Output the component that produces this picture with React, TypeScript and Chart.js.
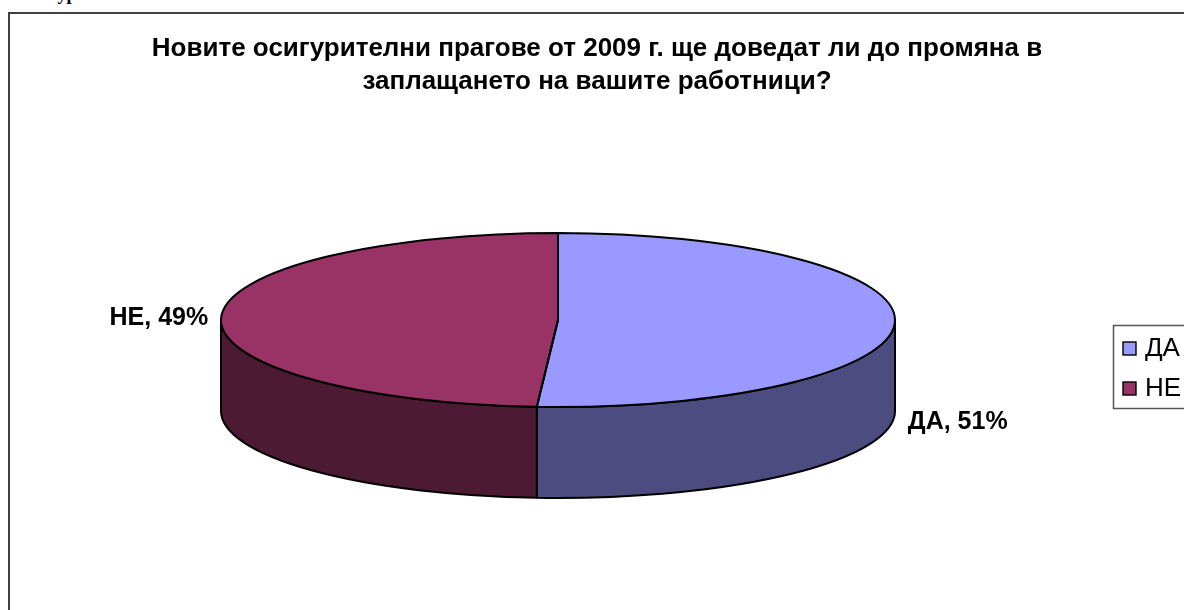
import React, { useEffect, useRef } from "react";
import { Chart, registerables } from "chart.js";

Chart.register(...registerables);

// ---- data ----
const categories = ["ДА", "НЕ"];
const shares = [51, 49];
const topColors = ["#9999FF", "#993366"];
const sideColors = ["#4C4C80", "#4C1A33"];
const titleLines = [
  "Новите осигурителни прагове от 2009 г. ще доведат ли до промяна в",
  "заплащането на вашите работници?",
];
const headingText = "Осигуровки";

// ---- layout ----
const W = 1174;
const H = 596;
const CX = 548;
const CY = 306;
const RX = 337;
const K = 87 / 337;
const DEPTH = 91;
const FONT = "'Liberation Sans', Arial, sans-serif";
const LINE_W = 2;

const pie3d = {
  id: "pie3d",
  beforeDatasetsDraw(chart: any) {
    const ctx = chart.ctx as CanvasRenderingContext2D;
    const arcs = chart.getDatasetMeta(0).data as any[];
    if (!arcs.length) return;
    const cx = arcs[0].x;
    const cy = arcs[0].y;
    const rx = arcs[0].outerRadius;
    const ry = rx * K;
    ctx.save();
    ctx.lineWidth = LINE_W;
    ctx.strokeStyle = "#000";
    ctx.lineJoin = "round";
    arcs.forEach((arc, i) => {
      const a0 = Math.max(arc.startAngle, 0);
      const a1 = Math.min(arc.endAngle, Math.PI);
      if (a1 <= a0) return;
      ctx.beginPath();
      ctx.ellipse(cx, cy, rx, ry, 0, a0, a1, false);
      ctx.lineTo(cx + rx * Math.cos(a1), cy + ry * Math.sin(a1) + DEPTH);
      ctx.ellipse(cx, cy + DEPTH, rx, ry, 0, a1, a0, true);
      ctx.closePath();
      ctx.fillStyle = sideColors[i];
      ctx.fill();
      ctx.stroke();
    });
    ctx.restore();
    ctx.save();
    ctx.translate(0, cy * (1 - K));
    ctx.scale(1, K);
  },
  afterDatasetsDraw(chart: any) {
    const ctx = chart.ctx as CanvasRenderingContext2D;
    ctx.restore();
    const arcs = chart.getDatasetMeta(0).data as any[];
    if (!arcs.length) return;
    const cx = arcs[0].x;
    const cy = arcs[0].y;
    const rx = arcs[0].outerRadius;
    const ry = rx * K;
    ctx.save();
    ctx.lineWidth = LINE_W;
    ctx.strokeStyle = "#000";
    ctx.lineJoin = "round";
    arcs.forEach((arc) => {
      ctx.beginPath();
      ctx.moveTo(cx, cy);
      ctx.ellipse(cx, cy, rx, ry, 0, arc.startAngle, arc.endAngle, false);
      ctx.closePath();
      ctx.stroke();
    });
    // data labels
    ctx.fillStyle = "#000";
    ctx.font = `bold 25px ${FONT}`;
    ctx.textBaseline = "middle";
    const values = chart.data.datasets[0].data as number[];
    arcs.forEach((arc, i) => {
      const mid = (arc.startAngle + arc.endAngle) / 2;
      const x = cx + rx * Math.cos(mid);
      const y = cy + ry * Math.sin(mid);
      const text = `${chart.data.labels[i]}, ${values[i]}%`;
      if (Math.cos(mid) >= 0) {
        ctx.textAlign = "left";
        ctx.fillText(text, x + 13, y + DEPTH + 8);
      } else {
        ctx.textAlign = "right";
        ctx.fillText(text, x - 13, y + 1);
      }
    });
    ctx.restore();
  },
  afterDraw(chart: any) {
    const ctx = chart.ctx as CanvasRenderingContext2D;
    ctx.save();
    // title
    ctx.fillStyle = "#000";
    ctx.font = `bold 26px ${FONT}`;
    ctx.textAlign = "center";
    ctx.textBaseline = "alphabetic";
    titleLines.forEach((line, i) => {
      ctx.fillText(line, chart.width / 2, 42 + i * 33);
    });
    // legend
    const lx = 1103;
    const ly = 311;
    ctx.lineWidth = 1.5;
    ctx.strokeStyle = "#555";
    ctx.strokeRect(lx + 0.5, ly + 0.5, 120, 83);
    ctx.font = `26px ${FONT}`;
    ctx.textAlign = "left";
    ctx.textBaseline = "middle";
    (chart.data.labels as string[]).forEach((lab, i) => {
      const y = ly + 23 + i * 40;
      ctx.fillStyle = topColors[i];
      ctx.fillRect(lx + 10, y - 6, 13, 13);
      ctx.lineWidth = 1.4;
      ctx.strokeStyle = "#000";
      ctx.strokeRect(lx + 10, y - 6, 13, 13);
      ctx.fillStyle = "#000";
      ctx.fillText(lab, lx + 32, y + 1);
    });
    ctx.restore();
  },
};

export default function App() {
  const ref = useRef<HTMLCanvasElement | null>(null);
  useEffect(() => {
    if (!ref.current) return;
    const padTop = 100;
    const chart = new Chart(ref.current, {
      type: "pie",
      data: {
        labels: categories,
        datasets: [
          {
            data: shares,
            backgroundColor: topColors,
            borderWidth: 0,
            radius: RX,
            clip: false,
          } as any,
        ],
      },
      options: {
        animation: false,
        responsive: false,
        events: [],
        layout: {
          padding: {
            left: 0,
            right: W - 2 * CX,
            top: padTop,
            bottom: H - (2 * CY - padTop),
          },
        },
        plugins: {
          legend: { display: false },
          title: { display: false },
          tooltip: { enabled: false },
        },
      },
      plugins: [pie3d],
    });
    return () => chart.destroy();
  }, []);

  return (
    <div
      style={{
        position: "fixed",
        left: 0,
        top: 0,
        width: 1184,
        height: 610,
        overflow: "hidden",
        background: "#fff",
      }}
    >
      <div
        style={{
          position: "absolute",
          left: 17,
          top: -15,
          font: "bold 18px 'Liberation Serif', serif",
          lineHeight: "18px",
          whiteSpace: "nowrap",
        }}
      >
        {headingText}
      </div>
      <div
        style={{
          position: "absolute",
          left: 8,
          top: 12,
          width: 1190,
          height: 620,
          borderLeft: "2px solid #404040",
          borderTop: "2px solid #404040",
          boxSizing: "border-box",
        }}
      >
        <canvas
          ref={ref}
          width={W}
          height={H}
          style={{ display: "block", width: W, height: H }}
        />
      </div>
    </div>
  );
}
